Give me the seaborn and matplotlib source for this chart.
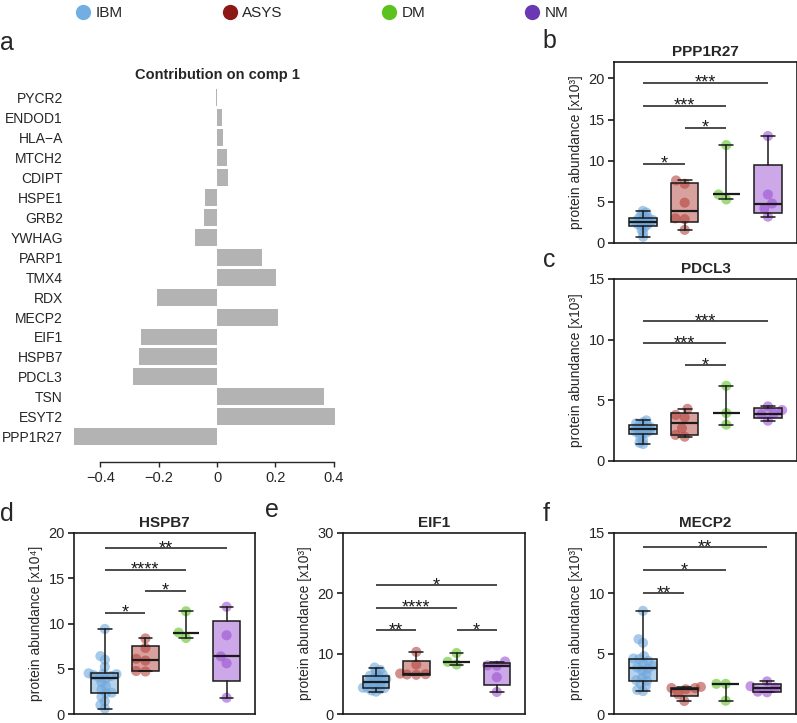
import numpy as np
import pandas as pd
import matplotlib
matplotlib.use("Agg")
import matplotlib.pyplot as plt
from matplotlib.lines import Line2D
from matplotlib.patches import PathPatch
import seaborn as sns

sns.set_style("ticks")
plt.rcParams["font.family"] = ["Liberation Sans", "DejaVu Sans"]

# ---- data -------------------------------------------------------------
groups = ["IBM", "ASYS", "DM", "NM"]

# panel a: loadings on component 1
genes = ["PYCR2", "ENDOD1", "HLA\u2212A", "MTCH2", "CDIPT", "HSPE1", "GRB2", "YWHAG",
         "PARP1", "TMX4", "RDX", "MECP2", "EIF1", "HSPB7", "PDCL3", "TSN", "ESYT2", "PPP1R27"]
contribution = [-0.004, 0.017, 0.021, 0.034, 0.037, -0.041, -0.043, -0.075,
                0.154, 0.201, -0.207, 0.21, -0.26, -0.268, -0.288, 0.368, 0.403, -0.489]

# panel b: PPP1R27 (x10^3)
ppp1r27_ibm = [0.75, 1.2, 1.6, 1.9, 2.1, 2.2, 2.3, 2.4, 2.5, 2.6,
               2.6, 2.7, 2.8, 2.9, 3.0, 3.1, 3.3, 3.5, 3.7, 3.9]
ppp1r27_asys = [1.6, 2.9, 3.0, 4.9, 7.2, 7.6]
ppp1r27_dm = [5.3, 5.9, 11.9]
ppp1r27_nm = [3.2, 4.2, 4.8, 5.9, 13.0]
ppp1r27_sig = [(0, 1, 9.6, "*"), (1, 2, 14.0, "*"), (0, 2, 16.7, "***"), (0, 3, 19.5, "***")]

# panel c: PDCL3 (x10^3)
pdcl3_ibm = [1.4, 1.5, 1.7, 1.9, 2.25, 2.3, 2.35, 2.4, 2.5, 2.6,
             2.6, 2.7, 2.75, 2.8, 2.9, 2.95, 3.0, 3.1, 3.2, 3.35]
pdcl3_asys = [2.0, 2.15, 2.7, 3.6, 3.8, 4.3]
pdcl3_dm = [3.0, 3.95, 6.2]
pdcl3_nm = [3.32, 3.85, 3.9, 4.2, 4.5]
pdcl3_sig = [(1, 2, 7.9, "*"), (0, 2, 9.7, "***"), (0, 3, 11.5, "***")]

# panel d: HSPB7 (x10^4)
hspb7_ibm = [0.6, 1.0, 1.4, 1.9, 2.3, 2.35, 2.7, 3.1, 3.5, 3.9,
             4.05, 4.2, 4.3, 4.4, 4.45, 4.5, 5.2, 6.0, 6.4, 9.4]
hspb7_asys = [4.7, 4.75, 5.9, 6.1, 7.3, 8.35]
hspb7_dm = [8.4, 9.0, 11.35]
hspb7_nm = [1.8, 5.6, 6.37, 8.7, 11.85]
hspb7_sig = [(0, 1, 11.2, "*"), (1, 2, 13.6, "*"), (0, 2, 15.9, "****"), (0, 3, 18.3, "**")]

# panel e: EIF1 (x10^3)
eif1_ibm = [3.7, 3.9, 4.1, 4.3, 4.3, 4.35, 4.6, 4.9, 5.1, 5.3,
            5.4, 5.6, 5.8, 6.0, 6.3, 6.35, 6.6, 7.0, 7.3, 7.7]
eif1_asys = [6.5, 6.55, 6.6, 6.7, 8.2, 10.3]
eif1_dm = [8.2, 8.65, 10.1]
eif1_nm = [3.65, 6.1, 8.0, 8.05, 8.7]
eif1_sig = [(0, 1, 13.9, "**"), (2, 3, 13.9, "*"), (0, 2, 17.6, "****"), (0, 3, 21.3, "*")]

# panel f: MECP2 (x10^3)
mecp2_ibm = [1.9, 2.0, 2.3, 2.5, 2.75, 2.8, 3.0, 3.3, 3.6, 3.75,
             3.85, 4.0, 4.2, 4.4, 4.55, 4.6, 4.8, 5.9, 6.2, 8.55]
mecp2_asys = [1.08, 1.63, 2.05, 2.15, 2.15, 2.25]
mecp2_dm = [1.1, 2.5, 2.5]
mecp2_nm = [1.8, 1.85, 2.18, 2.3, 2.7]
mecp2_sig = [(0, 1, 10.0, "**"), (0, 2, 11.9, "*"), (0, 3, 13.8, "**")]

legend_colors = {"IBM": "#72aee3", "ASYS": "#8b1a16", "DM": "#5cc21f", "NM": "#6b38b3"}
point_colors = {"IBM": "#6fa8dc", "ASYS": "#b5443e", "DM": "#5cc424", "NM": "#9c52d4"}
line_c = "#1a1a1a"

W, H = 797, 723
fig = plt.figure(figsize=(W / 100, H / 100), dpi=100)


def add_axes_px(left, top, right, bottom):
    return fig.add_axes([left / W, 1 - bottom / H, (right - left) / W, (bottom - top) / H])


def box_stats(vals):
    v = np.asarray(vals, dtype=float)
    med = float(np.median(v))
    if len(v) > 3:
        q1, q3 = np.percentile(v, [25, 75], method="weibull")
    else:  # n = 3 drawn as median with range
        q1 = q3 = med
    return {"med": med, "q1": q1, "q3": q3, "whislo": v.min(), "whishi": v.max(), "fliers": []}


swarms = []


def box_panel(ax, title, data, ylabel, ylim, yticks, sig, xleft, ibm_swarm):
    df = pd.DataFrame({"group": np.repeat(groups, [len(d) for d in data]),
                       "value": np.concatenate(data)})
    # IBM has many samples: lay it out tighter so the dots overlap as in the original
    for sub, size in [(df[df.group == "IBM"], ibm_swarm), (df[df.group != "IBM"], 6.4)]:
        n0 = len(ax.collections)
        sns.swarmplot(data=sub, x="group", y="value", hue="group", order=groups,
                      hue_order=groups, palette=point_colors, size=size, alpha=0.6,
                      linewidth=0, legend=False, ax=ax, zorder=2)
        swarms.extend(ax.collections[n0:])

    stats = [box_stats(d) for d in data]
    art = ax.bxp(stats, positions=range(4), widths=0.66, capwidths=0.34, patch_artist=True,
                 showfliers=False, manage_ticks=False, zorder=3,
                 boxprops=dict(facecolor="none", edgecolor=line_c, linewidth=1.1),
                 whiskerprops=dict(color=line_c, linewidth=1.1),
                 capprops=dict(color=line_c, linewidth=1.1),
                 medianprops=dict(color=line_c, linewidth=1.6))
    for patch, g in zip(art["boxes"], groups):
        ax.add_patch(PathPatch(patch.get_path(), facecolor=point_colors[g], alpha=0.5,
                               edgecolor="none", zorder=1))

    for i, j, y, stars in sig:
        ax.plot([i, j], [y, y], color=line_c, lw=1.1, solid_capstyle="butt")
        ax.annotate(stars, xy=((i + j) / 2, y), xytext=(0, -3.5), textcoords="offset points",
                    ha="center", va="baseline", fontsize=13, color=line_c)

    ax.set_xlim(xleft, 3.7)
    ax.set_ylim(*ylim)
    ax.set_yticks(yticks)
    ax.set_xticks([])
    ax.set_xlabel("")
    ax.set_ylabel(ylabel, fontsize=10)
    ax.set_title(title, fontweight="bold", fontsize=11, pad=4)
    for s in ax.spines.values():
        s.set_visible(True)
        s.set_linewidth(1.2)
        s.set_color(line_c)
    ax.tick_params(axis="y", length=4.5, width=1.2, labelsize=10.5, pad=2, color=line_c)


# ---- panel a ------------------------------------------------------------
ax_a = add_axes_px(71, 85, 363, 461.7)
sns.barplot(x=contribution, y=genes, orient="y", color="#b3b3b3", width=0.85,
            saturation=1, linewidth=0, ax=ax_a)
ax_a.set_ylim(18.25, -0.63)
ax_a.set_xlim(-0.5, 0.5)
for side in ["left", "top", "right"]:
    ax_a.spines[side].set_visible(False)
ax_a.spines["bottom"].set_bounds(-0.4, 0.4)
ax_a.spines["bottom"].set_linewidth(1.0)
ax_a.set_xticks([-0.4, -0.2, 0, 0.2, 0.4])
ax_a.set_xticklabels(["\u22120.4", "\u22120.2", "0", "0.2", "0.4"])
ax_a.tick_params(axis="y", length=0, labelsize=10, pad=5.8)
ax_a.tick_params(axis="x", length=3.6, width=1.0, labelsize=10.5, pad=3)
ax_a.set_xlabel("")
ax_a.set_ylabel("")
ax_a.set_title("Contribution on comp 1", fontweight="bold", fontsize=10.5, pad=4)

# ---- panels b-f ---------------------------------------------------------
box_panel(add_axes_px(614, 62, 797, 243), "PPP1R27",
          [ppp1r27_ibm, ppp1r27_asys, ppp1r27_dm, ppp1r27_nm],
          "protein abundance [x10\u00b3]", (0, 22), [0, 5, 10, 15, 20], ppp1r27_sig, -0.7, 2.6)
box_panel(add_axes_px(614, 279, 797, 461), "PDCL3",
          [pdcl3_ibm, pdcl3_asys, pdcl3_dm, pdcl3_nm],
          "protein abundance [x10\u00b3]", (0, 15), [0, 5, 10, 15], pdcl3_sig, -0.7, 2.6)
box_panel(add_axes_px(74, 533, 255, 714), "HSPB7",
          [hspb7_ibm, hspb7_asys, hspb7_dm, hspb7_nm],
          "protein abundance [x10\u2074]", (0, 20), [0, 5, 10, 15, 20], hspb7_sig, -0.76, 4.0)
box_panel(add_axes_px(343, 533, 525, 714), "EIF1",
          [eif1_ibm, eif1_asys, eif1_dm, eif1_nm],
          "protein abundance [x10\u00b3]", (0, 30), [0, 10, 20, 30], eif1_sig, -0.82, 3.2)
box_panel(add_axes_px(614, 533, 796, 714), "MECP2",
          [mecp2_ibm, mecp2_asys, mecp2_dm, mecp2_nm],
          "protein abundance [x10\u00b3]", (0, 15), [0, 5, 10, 15], mecp2_sig, -0.7, 4.0)

# panel letters
for letter, x, y in [("a", 0, 50), ("b", 542, 48), ("c", 543, 267),
                     ("d", 0, 521), ("e", 265, 517), ("f", 543, 521)]:
    fig.text(x / W, 1 - y / H, letter, fontsize=18, va="baseline", ha="left")

# legend
handles = [Line2D([], [], marker="o", linestyle="none", markersize=11,
                  markerfacecolor=legend_colors[g], markeredgecolor="none", label=g)
           for g in groups]
fig.legend(handles=handles, loc="center", bbox_to_anchor=(322 / W, 1 - 13 / H), ncol=4,
           frameon=False, fontsize=11, handlelength=1, handletextpad=0.3,
           columnspacing=6.5, borderpad=0)

# lay out the swarms with small markers, then show them larger (overlapping)
fig.canvas.draw()
for coll in swarms:
    coll.__dict__.pop("draw", None)
    coll.set_sizes([7.3 ** 2])

fig.savefig("out.png", dpi=100)
